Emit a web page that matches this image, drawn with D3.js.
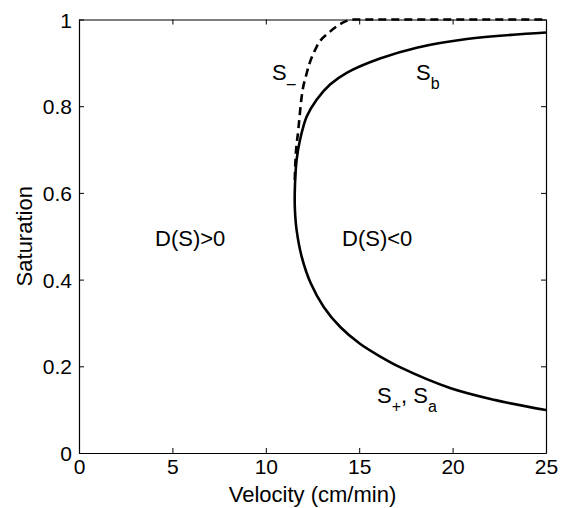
<!DOCTYPE html>
<html><head><meta charset="utf-8">
<script src="https://cdn.jsdelivr.net/npm/d3@7"></script>
<style>
body{margin:0;background:#fff}
text{font-family:"Liberation Sans",Arial,Helvetica,sans-serif;fill:#000}
</style>
</head><body>
<svg id="chart" width="565" height="508"></svg>
<script>
// ---- data ----
const xTicks = [0, 5, 10, 15, 20, 25];
const yTicks = [0, 0.2, 0.4, 0.6, 0.8, 1];
const xTickLabels = ["0", "5", "10", "15", "20", "25"];
const yTickLabels = ["0", "0.2", "0.4", "0.6", "0.8", "1"];
// solid curve (S_+/S_a lower branch, nose, S_b upper branch), ordered by saturation
const solidV = [25.0, 22.3, 19.86, 17.18, 16.11, 15.04, 14.0, 13.1, 12.4, 11.92, 11.65, 11.56, 11.55, 11.65, 11.83, 12.19, 12.72, 13.44, 14.33, 16.11, 18.08, 20.76, 25.0];
const solidS = [0.099, 0.122, 0.150, 0.198, 0.223, 0.252, 0.290, 0.337, 0.392, 0.453, 0.514, 0.560, 0.600, 0.676, 0.722, 0.776, 0.815, 0.850, 0.877, 0.910, 0.935, 0.955, 0.970];
// dashed curve S_-
const dashV = [11.55, 11.58, 11.74, 11.92, 12.19, 12.72, 13.44, 14.24, 14.6, 25.0];
const dashS = [0.63, 0.668, 0.745, 0.822, 0.876, 0.937, 0.972, 0.995, 1.0, 1.0];

// ---- layout ----
const svg = d3.select("#chart");
const L = 79, R = 546, T = 19.5, B = 453;
const x = d3.scaleLinear().domain([0, 25]).range([L, R]);
const y = d3.scaleLinear().domain([0, 1]).range([B, T]);
const fs = 22, tfs = 21;

svg.append("defs").append("clipPath").attr("id", "clip")
  .append("rect").attr("x", L).attr("y", T - 2).attr("width", R - L).attr("height", B - T + 2);

// curves
const solid = solidV.map((v, i) => [v, solidS[i]]);
const dashed = dashV.map((v, i) => [v, dashS[i]]);
svg.append("path").datum(solid)
  .attr("d", d3.line().x(d => x(d[0])).y(d => y(d[1])).curve(d3.curveCatmullRom.alpha(0.5)))
  .attr("fill", "none").attr("stroke", "#000").attr("stroke-width", 2.6)
  .attr("clip-path", "url(#clip)");
svg.append("path").datum(dashed)
  .attr("d", d3.line().x(d => x(d[0])).y(d => y(d[1])).curve(d3.curveMonotoneX))
  .attr("fill", "none").attr("stroke", "#000").attr("stroke-width", 2.6)
  .attr("stroke-dasharray", "8,5").attr("clip-path", "url(#clip)");

// axes box with inward ticks on all sides
const tl = 5;
const axB = svg.append("g").attr("transform", `translate(0,${B})`)
  .call(d3.axisBottom(x).tickValues(xTicks).tickFormat((d, i) => xTickLabels[i]).tickSizeInner(-tl).tickSizeOuter(0).tickPadding(6));
const axT = svg.append("g").attr("transform", `translate(0,${T})`)
  .call(d3.axisTop(x).tickValues(xTicks).tickFormat("").tickSizeInner(-tl).tickSizeOuter(0));
const axL = svg.append("g").attr("transform", `translate(${L},0)`)
  .call(d3.axisLeft(y).tickValues(yTicks).tickFormat((d, i) => yTickLabels[i]).tickSizeInner(-tl).tickSizeOuter(0).tickPadding(7));
const axR = svg.append("g").attr("transform", `translate(${R},0)`)
  .call(d3.axisRight(y).tickValues(yTicks).tickFormat("").tickSizeInner(-tl).tickSizeOuter(0));
[axB, axT, axL, axR].forEach(a => {
  a.selectAll(".domain").attr("stroke", "#000").attr("stroke-width", 1.2);
  a.selectAll(".tick line").attr("stroke", "#000").attr("stroke-width", 1);
  a.selectAll("text").style("font-size", tfs + "px").attr("font-family", null).attr("fill", "#000");
});
axB.selectAll("text").attr("dy", "0.71em");
axL.selectAll("text").attr("dy", "0.36em");

// axis labels
svg.append("text").attr("x", (L + R) / 2).attr("y", 502).attr("text-anchor", "middle")
  .style("font-size", fs + "px").text("Velocity (cm/min)");
svg.append("text").attr("transform", `translate(32,${(T + B) / 2}) rotate(-90)`).attr("text-anchor", "middle")
  .style("font-size", fs + "px").text("Saturation");

// annotations
function sublabel(px, py, parts) {
  const t = svg.append("text").attr("x", px).attr("y", py).style("font-size", fs + "px");
  parts.forEach(p => {
    const s = t.append("tspan").text(p.t);
    if (p.sub) s.style("font-size", "16px").attr("dy", p.dy);
    else if (p.dy) s.attr("dy", p.dy);
  });
}
svg.append("text").attr("x", 155).attr("y", 246).style("font-size", fs + "px").text("D(S)>0");
svg.append("text").attr("x", 342).attr("y", 246).style("font-size", fs + "px").text("D(S)<0");
sublabel(272, 80, [{t: "S"}, {t: "\u2013", sub: true, dy: 9}]);
sublabel(416, 80, [{t: "S"}, {t: "b", sub: true, dy: 9}]);
sublabel(377, 403, [{t: "S"}, {t: "+", sub: true, dy: 9}, {t: ", S", dy: -9}, {t: "a", sub: true, dy: 9}]);
</script>
</body></html>
